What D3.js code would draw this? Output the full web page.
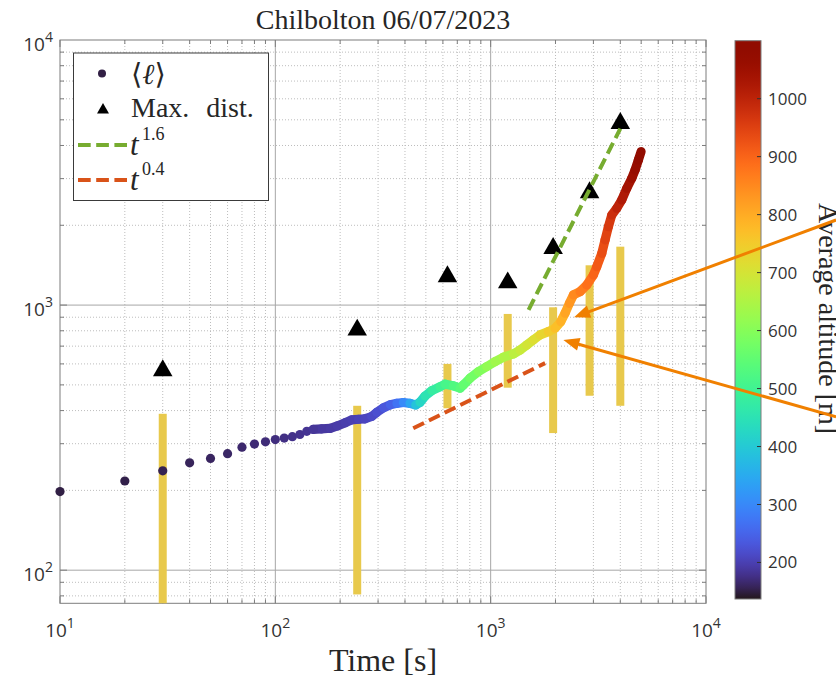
<!DOCTYPE html>
<html>
<head>
<meta charset="utf-8">
<script src="https://cdn.jsdelivr.net/npm/d3@7"></script>
<style>
  body { margin: 0; background: #fff; }
  .serif { font-family: "Liberation Serif", "DejaVu Serif", serif; fill: #262626; }
  .tick-label { font-family: "Open Sans", "Noto Sans", sans-serif; fill: #333; }
</style>
</head>
<body>
<svg class="chart" width="836" height="681"></svg>
<script>
// early, separate samples of the mean distance (s, m, m altitude)
const dotTimes = [10, 20, 30, 40, 50, 60, 70, 80, 90, 100, 110, 120, 130, 140, 150];
const dotValues = [198, 217, 237, 254, 264, 275, 291, 299, 305, 311, 315, 319, 325, 334, 340];
const dotAltitudes = [150, 152, 155, 158, 160, 162, 165, 168, 170, 172, 175, 178, 180, 182, 185];

// later samples, dense enough to read as one thick line
const curveTimes = [150, 164, 180, 194, 211, 226, 243, 260, 280, 296, 318, 342, 367, 393, 422, 449, 470, 496, 533, 582,
    614, 671, 721, 747, 802, 877, 959, 1048, 1146, 1275, 1370, 1471, 1579, 1696, 1854, 1991, 2116, 2216, 2321, 2422,
    2602, 2795, 2999, 3110, 3281, 3399, 3522, 3651, 3852, 4064, 4287, 4522, 4685, 4853, 4995];
const curveValues = [340, 341, 343, 350, 360, 369, 371, 372, 380, 394, 410, 421, 426, 429, 426, 420, 430, 454, 476, 492,
    503, 496, 486, 500, 530, 561, 586, 612, 636, 654, 677, 707, 739, 772, 794, 818, 866, 932, 1016, 1092,
    1124, 1191, 1299, 1396, 1568, 1763, 1976, 2188, 2319, 2493, 2759, 3008, 3234, 3527, 3791];
const curveAltitudes = [185, 188, 190, 192, 195, 198, 200, 205, 210, 218, 225, 240, 255, 285, 320, 370, 410, 440, 465, 490,
    505, 520, 535, 545, 565, 585, 605, 625, 640, 660, 675, 690, 705, 720, 740, 760, 780, 800, 820, 840,
    860, 875, 895, 905, 925, 940, 955, 970, 990, 1010, 1030, 1045, 1060, 1075, 1090];

// spread bars and maximum distance
const barTimes = [30, 240, 630, 1200, 1950, 2880, 4000];
const barLow = [60, 81, 408, 488, 329, 455, 417];
const barHigh = [389, 417, 600, 926, 981, 1413, 1661];
const maxDist = [566, 806, 1281, 1215, 1638, 2656, 4852];

// power-law guides
const fastFitTimes = [1500, 4000];
const fastFitValues = [960, 4630];
const slowFitTimes = [437, 1790];
const slowFitValues = [343, 604];

// annotation arrows: tail and tip in data units
const arrowTails = [[40180, 2094], [40180, 379]];
const arrowTips = [[2440, 900], [2176, 739]];

const xTickExponents = [1, 2, 3, 4];
const yTickExponents = [2, 3, 4];
const colorTicks = [200, 300, 400, 500, 600, 700, 800, 900, 1000];
const altitudeRange = [137, 1100];

const pLeft = 60, pRight = 706, pTop = 40, pBottom = 603.3;
const svg = d3.select(".chart");

const x = d3.scaleLog().domain([10, 1e4]).range([pLeft, pRight]);
const y = d3.scaleLog().domain([75, 1e4]).range([pBottom, pTop]);
const color = d3.scaleSequential(d3.interpolateTurbo).domain(altitudeRange);

const defs = svg.append("defs");
defs.append("clipPath").attr("id", "plot-clip")
    .append("rect").attr("x", pLeft).attr("y", pTop)
    .attr("width", pRight - pLeft).attr("height", pBottom - pTop);

// grid
const minorX = [], minorY = [];
for (let d = 1; d < 4; d++) for (let k = 2; k <= 9; k++) minorX.push(k * 10 ** d);
[80, 90].forEach(v => minorY.push(v));
for (let d = 2; d < 4; d++) for (let k = 2; k <= 9; k++) minorY.push(k * 10 ** d);

const grid = svg.append("g");
grid.selectAll(".mx").data(minorX).join("line")
    .attr("x1", d => x(d)).attr("x2", d => x(d)).attr("y1", pTop).attr("y2", pBottom)
    .attr("stroke", "#bdbdbd").attr("stroke-dasharray", "1,2");
grid.selectAll(".my").data(minorY).join("line")
    .attr("y1", d => y(d)).attr("y2", d => y(d)).attr("x1", pLeft).attr("x2", pRight)
    .attr("stroke", "#bdbdbd").attr("stroke-dasharray", "1,2");
grid.selectAll(".Mx").data([100, 1000]).join("line")
    .attr("x1", d => x(d)).attr("x2", d => x(d)).attr("y1", pTop).attr("y2", pBottom)
    .attr("stroke", "#a6a6a6");
grid.selectAll(".My").data([100, 1000]).join("line")
    .attr("y1", d => y(d)).attr("y2", d => y(d)).attr("x1", pLeft).attr("x2", pRight)
    .attr("stroke", "#a6a6a6");

// axes box and ticks
const axis = svg.append("g").attr("stroke", "#7d7d7d").attr("fill", "none");
axis.append("rect").attr("x", pLeft).attr("y", pTop).attr("width", pRight - pLeft).attr("height", pBottom - pTop);
const majorX = [10, 100, 1000, 10000], majorY = [100, 1000];
[[majorX, 7], [minorX, 4]].forEach(([vals, len]) => {
    vals.forEach(v => {
        axis.append("line").attr("x1", x(v)).attr("x2", x(v)).attr("y1", pBottom).attr("y2", pBottom - len);
        axis.append("line").attr("x1", x(v)).attr("x2", x(v)).attr("y1", pTop).attr("y2", pTop + len);
    });
});
[[majorY, 7], [minorY, 4]].forEach(([vals, len]) => {
    vals.forEach(v => {
        axis.append("line").attr("y1", y(v)).attr("y2", y(v)).attr("x1", pLeft).attr("x2", pLeft + len);
        axis.append("line").attr("y1", y(v)).attr("y2", y(v)).attr("x1", pRight).attr("x2", pRight - len);
    });
});

const plot = svg.append("g").attr("clip-path", "url(#plot-clip)");

// bars
plot.selectAll(".bar").data(barTimes).join("rect")
    .attr("x", d => x(d) - 4).attr("width", 8)
    .attr("y", (d, i) => y(barHigh[i]))
    .attr("height", (d, i) => y(barLow[i]) - y(barHigh[i]))
    .attr("fill", "#e8c94c");

// dense curve as coloured segments
const segs = d3.range(curveTimes.length - 1);
plot.selectAll(".seg").data(segs).join("line")
    .attr("x1", i => x(curveTimes[i])).attr("y1", i => y(curveValues[i]))
    .attr("x2", i => x(curveTimes[i + 1])).attr("y2", i => y(curveValues[i + 1]))
    .attr("stroke", i => color((curveAltitudes[i] + curveAltitudes[i + 1]) / 2))
    .attr("stroke-width", 9.2).attr("stroke-linecap", "round");

// early dots (not clipped, the first one sits on the axis)
svg.append("g").selectAll(".dot").data(dotTimes).join("circle")
    .attr("cx", d => x(d)).attr("cy", (d, i) => y(dotValues[i]))
    .attr("r", 4.6).attr("fill", (d, i) => color(dotAltitudes[i]));

// max distance triangles
plot.selectAll(".tri").data(barTimes).join("path")
    .attr("d", d3.symbol(d3.symbolTriangle, 165))
    .attr("transform", (d, i) => `translate(${x(d)},${y(maxDist[i])})`)
    .attr("fill", "#000");

// guide lines
const guide = d3.line().x(d => x(d[0])).y(d => y(d[1]));
plot.append("path").datum(d3.zip(fastFitTimes, fastFitValues))
    .attr("d", guide).attr("fill", "none").attr("stroke", "#77ac30")
    .attr("stroke-width", 4).attr("stroke-dasharray", "12,5.5");
plot.append("path").datum(d3.zip(slowFitTimes, slowFitValues))
    .attr("d", guide).attr("fill", "none").attr("stroke", "#d95319")
    .attr("stroke-width", 4).attr("stroke-dasharray", "12,5.5");

// tick labels
xTickExponents.forEach(e => {
    const t = svg.append("text").attr("class", "tick-label")
        .attr("x", x(10 ** e)).attr("y", 637).attr("text-anchor", "middle").attr("font-size", 19);
    t.append("tspan").text("10");
    t.append("tspan").attr("dy", -9).attr("font-size", 14).text(e);
});
yTickExponents.forEach(e => {
    const t = svg.append("text").attr("class", "tick-label")
        .attr("x", 53).attr("y", y(10 ** e) + 11).attr("text-anchor", "end").attr("font-size", 19);
    t.append("tspan").text("10");
    t.append("tspan").attr("dy", -9).attr("font-size", 14).text(e);
});

// title and axis label
svg.append("text").attr("class", "serif").attr("x", (pLeft + pRight) / 2).attr("y", 29)
    .attr("text-anchor", "middle").attr("font-size", 28).text("Chilbolton 06/07/2023");
svg.append("text").attr("class", "serif").attr("x", (pLeft + pRight) / 2).attr("y", 671)
    .attr("text-anchor", "middle").attr("font-size", 32).text("Time [s]");

// legend
const lg = svg.append("g");
lg.append("rect").attr("x", 73.5).attr("y", 53).attr("width", 195).attr("height", 147.5)
    .attr("fill", "#fff").attr("stroke", "#3a3a3a");
lg.append("circle").attr("cx", 102).attr("cy", 73.5).attr("r", 4).attr("fill", color(150));
const l1 = lg.append("text").attr("class", "serif").attr("x", 131).attr("y", 84).attr("font-size", 29);
l1.append("tspan").text("\u27E8");
l1.append("tspan").attr("font-style", "italic").text("\u2113");
l1.append("tspan").text("\u27E9");
lg.append("path").attr("d", d3.symbol(d3.symbolTriangle, 62))
    .attr("transform", "translate(103,110)").attr("fill", "#000");
lg.append("text").attr("class", "serif").attr("x", 131).attr("y", 117).attr("font-size", 28)
    .attr("word-spacing", 10).text("Max. dist.");
[["#77ac30", 145, "1.6"], ["#d95319", 180, "0.4"]].forEach(([c, yy, p]) => {
    lg.append("line").attr("x1", 78).attr("x2", 127).attr("y1", yy).attr("y2", yy)
        .attr("stroke", c).attr("stroke-width", 4).attr("stroke-dasharray", "12.7,5.5");
    const t = lg.append("text").attr("class", "serif").attr("x", 130).attr("y", yy + 10).attr("font-size", 31);
    t.append("tspan").attr("font-style", "italic").text("t");
    t.append("tspan").attr("x", 142).attr("dy", -15).attr("font-size", 18).text(p);
});

// colorbar
const cbX = 735, cbW = 26;
const cy = d3.scaleLinear().domain(altitudeRange).range([599, 40.7]);
const grad = defs.append("linearGradient").attr("id", "cb-grad")
    .attr("x1", 0).attr("y1", 1).attr("x2", 0).attr("y2", 0);
d3.range(0, 1.0001, 0.02).forEach(f => {
    grad.append("stop").attr("offset", f).attr("stop-color", d3.interpolateTurbo(f));
});
svg.append("rect").attr("x", cbX).attr("y", cy(altitudeRange[1])).attr("width", cbW)
    .attr("height", cy(altitudeRange[0]) - cy(altitudeRange[1]))
    .attr("fill", "url(#cb-grad)").attr("stroke", "#7d7d7d");
colorTicks.forEach(v => {
    svg.append("line").attr("x1", cbX + cbW - 4).attr("x2", cbX + cbW).attr("y1", cy(v)).attr("y2", cy(v))
        .attr("stroke", "#333");
    svg.append("text").attr("class", "tick-label").attr("x", 768).attr("y", cy(v) + 6)
        .attr("font-size", 17).text(v);
});
svg.append("text").attr("class", "serif").attr("font-size", 28)
    .attr("transform", "translate(819,203) rotate(90)").text("Average altitude [m]");

// arrows
arrowTails.forEach((tail, i) => {
    const tx = x(tail[0]), ty = y(tail[1]);
    const px = x(arrowTips[i][0]), py = y(arrowTips[i][1]);
    const len = Math.hypot(px - tx, py - ty), ux = (px - tx) / len, uy = (py - ty) / len;
    const L = 16, W = 6.5;
    const bx = px - L * ux, by = py - L * uy;
    svg.append("line").attr("x1", tx).attr("y1", ty).attr("x2", bx + 2 * ux).attr("y2", by + 2 * uy)
        .attr("stroke", "#f08000").attr("stroke-width", 3);
    svg.append("path")
        .attr("d", `M${px},${py}L${bx - W * uy},${by + W * ux}L${bx + W * uy},${by - W * ux}Z`)
        .attr("fill", "#f08000");
});
</script>
</body>
</html>
